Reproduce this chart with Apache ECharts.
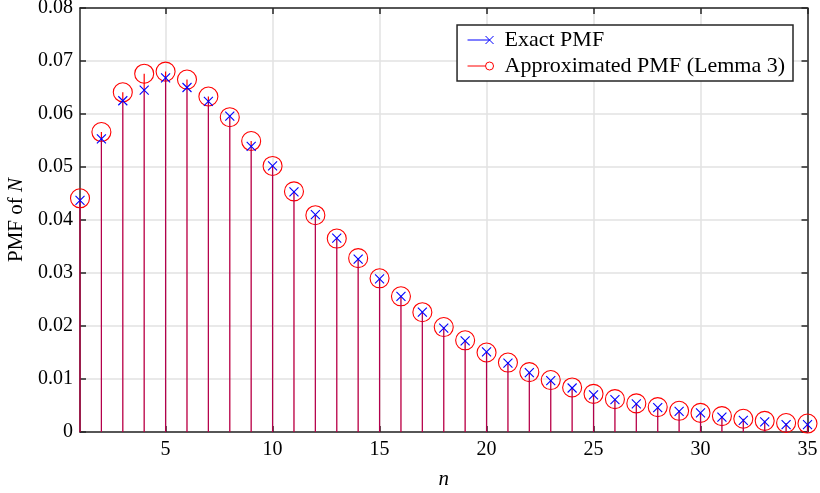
<!DOCTYPE html>
<html>
<head>
<meta charset="utf-8">
<script src="https://cdn.jsdelivr.net/npm/echarts@6/dist/echarts.min.js"></script>
<style>
  html, body { margin: 0; padding: 0; background: #fff; }
  #chart { width: 820px; height: 493px; }
</style>
</head>
<body>
<div id="chart"></div>
<script>
var nValues = [1, 2, 3, 4, 5, 6, 7, 8, 9, 10, 11, 12, 13, 14, 15, 16, 17, 18,
    19, 20, 21, 22, 23, 24, 25, 26, 27, 28, 29, 30, 31, 32, 33, 34, 35];
var exactPmf = [0.0437, 0.0553, 0.0625, 0.0645, 0.0668, 0.0650, 0.0624, 0.0596, 0.0539,
    0.0502, 0.0453, 0.0410, 0.0366, 0.0326, 0.0289, 0.0256, 0.0226, 0.0196, 0.0172,
    0.0151, 0.0130, 0.0112, 0.0097, 0.0083, 0.0070, 0.0061, 0.0053, 0.0046, 0.0039,
    0.0036, 0.0028, 0.0022, 0.0019, 0.0014, 0.0014];
var approxPmf = [0.0441, 0.0566, 0.0641, 0.0676, 0.0680, 0.0665, 0.0633, 0.0594, 0.0549,
    0.0502, 0.0454, 0.0409, 0.0365, 0.0328, 0.0290, 0.0256, 0.0226, 0.0198, 0.0173,
    0.0150, 0.0131, 0.0113, 0.0098, 0.0084, 0.0072, 0.0062, 0.0054, 0.0047, 0.0040,
    0.0036, 0.0030, 0.0025, 0.0021, 0.0017, 0.0016];
var xTicks = [5, 10, 15, 20, 25, 30, 35];

var font = 'Liberation Serif';
var axisColor = '#262626';

function pairs(ys) {
    return nValues.map(function (n, i) { return [n, ys[i]]; });
}

// stem + marker drawn through the axis scales
function stemRenderer(kind) {
    return function (params, api) {
        var x = api.value(0), y = api.value(1);
        var top = api.coord([x, y]);
        var base = api.coord([x, 0]);
        var children = [];
        if (kind === 'approx') {
            children.push({
                type: 'line',
                shape: { x1: base[0], y1: base[1], x2: top[0], y2: top[1] },
                style: { stroke: '#ff0000', lineWidth: 1.2 }
            });
            children.push({
                type: 'circle',
                shape: { cx: top[0], cy: top[1], r: 9.5 },
                style: { fill: 'none', stroke: '#ff0000', lineWidth: 1.1 }
            });
        } else {
            var h = 4.5;
            children.push({
                type: 'line',
                shape: { x1: base[0], y1: base[1], x2: top[0], y2: top[1] },
                style: { stroke: 'rgba(0,0,255,0.3)', lineWidth: 1.2 }
            });
            children.push({
                type: 'line',
                shape: { x1: top[0] - h, y1: top[1] - h, x2: top[0] + h, y2: top[1] + h },
                style: { stroke: '#0000ff', lineWidth: 1.1 }
            });
            children.push({
                type: 'line',
                shape: { x1: top[0] - h, y1: top[1] + h, x2: top[0] + h, y2: top[1] - h },
                style: { stroke: '#0000ff', lineWidth: 1.1 }
            });
        }
        return { type: 'group', children: children };
    };
}

var chart = echarts.init(document.getElementById('chart'), null, { renderer: 'canvas' });

var option = {
    backgroundColor: '#ffffff',
    animation: false,
    grid: { left: 80, right: 12.5, top: 8, bottom: 61, containLabel: false, outerBoundsMode: 'none' },
    legend: {
        right: 27,
        top: 25,
        orient: 'vertical',
        backgroundColor: '#ffffff',
        borderColor: axisColor,
        borderWidth: 1.5,
        borderRadius: 0,
        padding: [4, 8, 4, 8],
        itemGap: 4,
        itemWidth: 26,
        itemHeight: 8,
        textStyle: { fontFamily: font, fontSize: 22, color: '#000', padding: [0, 0, 0, 6] },
        data: [
            {
                name: 'Exact PMF',
                icon: 'path://M0,5L22,5M18,1L26,9M26,1L18,9',
                itemStyle: { color: 'none', borderColor: '#0000ff', borderWidth: 1 }
            },
            {
                name: 'Approximated PMF (Lemma 3)',
                icon: 'path://M0,5L18,5M18,5A4,4,0,1,1,26,5A4,4,0,1,1,18,5',
                itemStyle: { color: 'none', borderColor: '#ff0000', borderWidth: 1 }
            }
        ]
    },
    xAxis: [
        {
            type: 'value',
            min: 1,
            max: 35,
            name: 'n',
            nameLocation: 'middle',
            nameGap: 37,
            nameTextStyle: { fontFamily: font, fontSize: 21, fontStyle: 'italic', color: '#000' },
            axisLine: { show: true, onZero: false, lineStyle: { color: axisColor, width: 1.5 } },
            axisTick: { show: true, inside: true, length: 6, customValues: xTicks,
                lineStyle: { color: axisColor, width: 1.5 } },
            axisLabel: { customValues: xTicks, margin: 8, fontFamily: font, fontSize: 20, color: '#000' },
            splitLine: { show: true, customValues: xTicks, lineStyle: { color: '#e2e2e2', width: 1.5 } }
        },
        {
            type: 'value',
            position: 'top',
            min: 1,
            max: 35,
            axisLine: { show: true, onZero: false, lineStyle: { color: axisColor, width: 1.5 } },
            axisTick: { show: true, inside: true, length: 6, customValues: xTicks,
                lineStyle: { color: axisColor, width: 1.5 } },
            axisLabel: { show: false },
            splitLine: { show: false }
        }
    ],
    yAxis: [
        {
            type: 'value',
            min: 0,
            max: 0.08,
            interval: 0.01,
            name: '{a|PMF of }{b|N}',
            nameLocation: 'middle',
            nameGap: 45,
            nameTextStyle: {
                rich: {
                    a: { fontFamily: font, fontSize: 21, color: '#000' },
                    b: { fontFamily: font, fontSize: 21, fontStyle: 'italic', color: '#000' }
                }
            },
            axisLine: { show: true, onZero: false, lineStyle: { color: axisColor, width: 1.5 } },
            axisTick: { show: true, inside: true, length: 6, lineStyle: { color: axisColor, width: 1.5 } },
            axisLabel: { margin: 7, fontFamily: font, fontSize: 20, color: '#000' },
            splitLine: { show: true, lineStyle: { color: '#e2e2e2', width: 1.5 } }
        },
        {
            type: 'value',
            position: 'right',
            min: 0,
            max: 0.08,
            interval: 0.01,
            axisLine: { show: true, onZero: false, lineStyle: { color: axisColor, width: 1.5 } },
            axisTick: { show: true, inside: true, length: 6, lineStyle: { color: axisColor, width: 1.5 } },
            axisLabel: { show: false },
            splitLine: { show: false }
        }
    ],
    series: [
        {
            name: 'Approximated PMF (Lemma 3)',
            type: 'custom',
            xAxisIndex: 0,
            yAxisIndex: 0,
            clip: false,
            itemStyle: { color: '#ff0000' },
            renderItem: stemRenderer('approx'),
            data: pairs(approxPmf)
        },
        {
            name: 'Exact PMF',
            type: 'custom',
            xAxisIndex: 0,
            yAxisIndex: 0,
            clip: false,
            itemStyle: { color: '#0000ff' },
            renderItem: stemRenderer('exact'),
            data: pairs(exactPmf)
        }
    ]
};

chart.setOption(option);
</script>
</body>
</html>
